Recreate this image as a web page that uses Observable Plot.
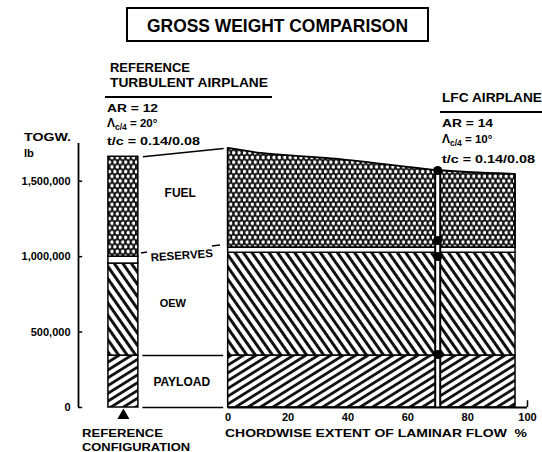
<!DOCTYPE html>
<html><head><meta charset="utf-8">
<script src="https://cdn.jsdelivr.net/npm/d3@7"></script>
<script src="https://cdn.jsdelivr.net/npm/@observablehq/plot@0.6"></script>
<style>html,body{margin:0;padding:0;background:#fff;overflow:hidden}</style>
</head><body><div id="chart"></div>
<script>
// ---------- data (weights in lb) ----------
const layers = ["PAYLOAD", "OEW", "RESERVES", "FUEL"];
// reference turbulent airplane: cumulative top of each layer
const refTops = [344000, 954000, 1000000, 1662000];
// LFC airplane vs chordwise extent of laminar flow (%)
const lfcX = [0, 11, 33, 55, 70, 96];
const lfcPayloadTop  = [344000, 344000, 344000, 344000, 344000, 344000];
const lfcOEWTop      = [1026000, 1026000, 1026000, 1026000, 1026000, 1026000];
const lfcReservesTop = [1060000, 1060000, 1060000, 1060000, 1060000, 1060000];
const lfcGross       = [1717000, 1684000, 1651000, 1604000, 1571000, 1545000];
// selected design point
const designX = 70;
const designWeights = [1571000, 1107000, 1001000, 351000];
// ticks
const yTicks = [0, 500000, 1000000, 1500000];
const xTicks = [0, 20, 40, 60, 80, 100];

const patterns = {PAYLOAD: "url(#pPayload)", OEW: "url(#pOEW)", RESERVES: "white", FUEL: "url(#pFuel)"};

const refRows = layers.map((k, i) => ({layer: k, lo: i ? refTops[i - 1] : 0, hi: refTops[i], fill: patterns[k]}));
const lfcRows = lfcX.map((x, i) => ({x, pay: lfcPayloadTop[i], oew: lfcOEWTop[i], res: lfcReservesTop[i], gross: lfcGross[i]}));
const grossAtDesign = lfcGross[lfcX.indexOf(designX)];

const FONT = "'Liberation Sans', Arial, Helvetica, sans-serif";

const chart = Plot.plot({
  width: 542, height: 452,
  marginLeft: 78, marginRight: 15, marginTop: 143, marginBottom: 45,
  x: {domain: [-50, 100]},
  y: {domain: [0, 1750000]},
  color: {type: "identity"},
  style: {fontFamily: FONT, fontSize: "11px", color: "black", background: "white"},
  marks: [
    // LFC airplane stacked areas
    Plot.areaY(lfcRows, {x: "x", y1: 0, y2: "pay", fill: patterns.PAYLOAD, stroke: "black", strokeWidth: 1.5}),
    Plot.areaY(lfcRows, {x: "x", y1: "pay", y2: "oew", fill: patterns.OEW, stroke: "black", strokeWidth: 1.5}),
    Plot.areaY(lfcRows, {x: "x", y1: "oew", y2: "res", fill: patterns.RESERVES, stroke: "black", strokeWidth: 1.5}),
    Plot.areaY(lfcRows, {x: "x", y1: "res", y2: "gross", fill: patterns.FUEL, stroke: "black", strokeWidth: 1.8, curve: "monotone-x"}),
    // reference bar
    Plot.rect(refRows, {x1: -40, x2: -30, y1: "lo", y2: "hi", fill: "fill", stroke: "black", strokeWidth: 1.5}),
    // connectors between the reference bar and the LFC panel
    Plot.link([0], {x1: -28.5, x2: -1.5, y1: refTops[3], y2: lfcGross[0], stroke: "black", strokeWidth: 1.5}),
    Plot.ruleY([0, refTops[0]], {x1: -28.5, x2: -1.5, stroke: "black", strokeWidth: 1.5}),
    // design point marker
    Plot.ruleX([designX], {y1: 0, y2: grossAtDesign, stroke: "black", strokeWidth: 7}),
    Plot.ruleX([designX], {y1: 0, y2: grossAtDesign, stroke: "white", strokeWidth: 3}),
    Plot.dot(designWeights, {x: designX, y: d => d, r: 4.5, fill: "black"}),
    // y axis
    Plot.ruleX([-50], {y1: 0, y2: 1750000, stroke: "black", strokeWidth: 1.8}),
    Plot.ruleY(yTicks, {x1: -50, x2: -48.6, stroke: "black", strokeWidth: 1.5}),
    Plot.axisY({ticks: yTicks, tickFormat: d3.format(","), tickSize: 0, tickPadding: 8, label: null, fontWeight: "bold", fontSize: 11, letterSpacing: 0.6}),
    // x axis
    Plot.ruleY([0], {x1: 0, x2: 100, stroke: "black", strokeWidth: 1.8}),
    Plot.ruleX([100], {y1: 0, y2: 45000, stroke: "black", strokeWidth: 1.5}),
    Plot.axisX({ticks: xTicks, tickSize: 0, tickPadding: 6, label: null, fontWeight: "bold", fontSize: 11}),
    // reference configuration marker
    Plot.dot([0], {x: -35, y: 0, dy: 8, symbol: "triangle", r: 4.5, fill: "black"}),
    // layer labels
    Plot.text(["FUEL"], {x: -16, y: 1418000, fontWeight: "bold", fontSize: 12, letterSpacing: 1}),
    Plot.text(["RESERVES"], {x: -15.5, y: 1007000, rotate: -4, fontWeight: "bold", fontSize: 11.5, letterSpacing: 1}),
    Plot.text(["OEW"], {x: -18.5, y: 689000, fontWeight: "bold", fontSize: 11, letterSpacing: 1}),
    Plot.text(["PAYLOAD"], {x: -15.5, y: 166000, fontWeight: "bold", fontSize: 12, letterSpacing: 1})
  ]
});

document.getElementById("chart").appendChild(chart);

// ---------- fill patterns ----------
const svg = d3.select(chart);
const defs = svg.insert("defs", ":first-child");
const pf = defs.append("pattern").attr("id", "pFuel").attr("patternUnits", "userSpaceOnUse")
  .attr("width", 5.4).attr("height", 9.4);
pf.append("rect").attr("width", 5.4).attr("height", 9.4).attr("fill", "#111");
pf.append("circle").attr("cx", 1.35).attr("cy", 2.35).attr("r", 1.8).attr("fill", "white");
pf.append("circle").attr("cx", 4.05).attr("cy", 7.05).attr("r", 1.8).attr("fill", "white");
const po = defs.append("pattern").attr("id", "pOEW").attr("patternUnits", "userSpaceOnUse")
  .attr("width", 7).attr("height", 7).attr("patternTransform", "rotate(55)");
po.append("rect").attr("width", 7).attr("height", 7).attr("fill", "white");
po.append("rect").attr("width", 7).attr("height", 3).attr("fill", "#111");
const pp = defs.append("pattern").attr("id", "pPayload").attr("patternUnits", "userSpaceOnUse")
  .attr("width", 6.6).attr("height", 6.6).attr("patternTransform", "rotate(-32)");
pp.append("rect").attr("width", 6.6).attr("height", 6.6).attr("fill", "white");
pp.append("rect").attr("width", 6.6).attr("height", 2.8).attr("fill", "#111");

// ---------- annotations ----------
const g = svg.append("g").attr("font-family", FONT).attr("font-weight", "bold")
  .attr("fill", "black").attr("text-anchor", "start");
function txt(x, y, s, size, len) {
  const t = g.append("text").attr("x", x).attr("y", y).attr("font-size", size).text(s);
  if (len) t.attr("textLength", len).attr("lengthAdjust", "spacingAndGlyphs");
  return t;
}
function line(x1, y1, x2, y2, w) {
  g.append("line").attr("x1", x1).attr("y1", y1).attr("x2", x2).attr("y2", y2)
    .attr("stroke", "black").attr("stroke-width", w);
}
function sweep(x, y, value) {
  const t = g.append("text").attr("x", x).attr("y", y).attr("font-size", 12);
  t.append("tspan").text("Λ");
  t.append("tspan").attr("dy", 2.5).attr("font-size", 8.5).text("c/4");
  t.append("tspan").attr("dy", -2.5).attr("font-size", 11.5).text(" = " + value);
}

// title
g.append("rect").attr("x", 127).attr("y", 8).attr("width", 301).attr("height", 33)
  .attr("fill", "none").attr("stroke", "black").attr("stroke-width", 2);
txt(147, 32, "GROSS WEIGHT COMPARISON", 19, 261);

// reference airplane header
txt(110, 72, "REFERENCE", 12.5, 80);
txt(110, 87, "TURBULENT AIRPLANE", 12.5, 158);
line(105, 97, 272, 97, 2.2);
txt(107, 112, "AR = 12", 11.5, 51);
sweep(107, 127, "20°");
txt(107, 145, "t/c = 0.14/0.08", 11.5, 93);

// LFC airplane header
txt(442, 102, "LFC AIRPLANE", 12.5, 100);
line(440, 112, 542, 112, 2.2);
txt(442, 127, "AR = 14", 11.5, 51);
sweep(442, 143, "10°");
txt(442, 163, "t/c = 0.14/0.08", 11.5, 93);

// y axis title
txt(24, 141, "TOGW.", 11.5, 47);
txt(24, 157, "lb", 11.5, 10);

// reserves bracket marks
line(141, 253, 147, 252, 1.5);
line(212, 246, 220, 245, 1.5);

// bottom labels
txt(82, 437, "REFERENCE", 11.5, 81);
txt(82, 451, "CONFIGURATION", 11.5, 108);
txt(225, 437, "CHORDWISE EXTENT OF LAMINAR FLOW  %", 11.5, 302);
</script>
</body></html>
